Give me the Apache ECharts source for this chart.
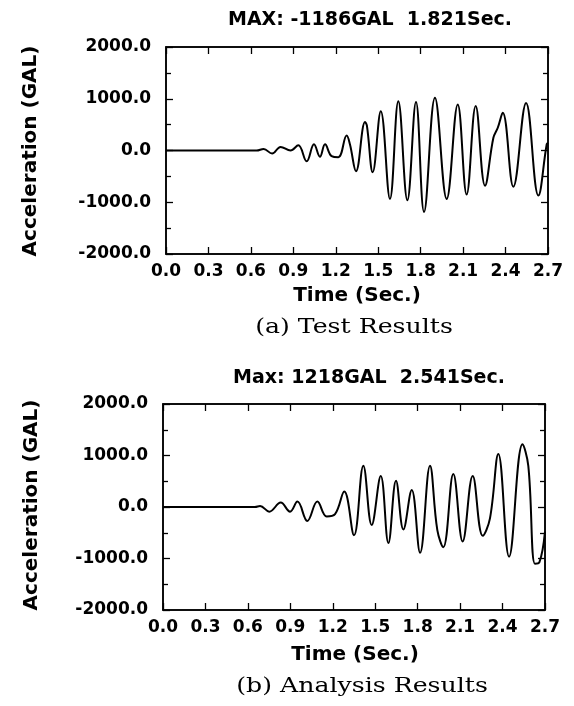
<!DOCTYPE html>
<html>
<head>
<meta charset="utf-8">
<script src="https://cdn.jsdelivr.net/npm/echarts@6/dist/echarts.min.js"></script>
<style>
html,body{margin:0;padding:0;background:#fff;}
#chart{width:574px;height:706px;}
</style>
</head>
<body>
<div id="chart"></div>
<script>
// ---- data ----
const timeTicks = [0.0, 0.3, 0.6, 0.9, 1.2, 1.5, 1.8, 2.1, 2.4, 2.7];
const accTicks = [-2000, -1000, 0, 1000, 2000];

const titleTest = 'MAX: -1186GAL  1.821Sec.';
const titleAnalysis = 'Max: 1218GAL  2.541Sec.';
const captionTest = '(a) Test Results';
const captionAnalysis = '(b) Analysis Results';
const xName = 'Time (Sec.)';
const yName = 'Acceleration (GAL)';

const testTime = [0, 0.3, 0.64, 0.69, 0.75, 0.81, 0.88, 0.935, 0.994, 1.046, 1.088, 1.124, 1.171, 1.218, 1.277, 1.30, 1.343, 1.407, 1.42, 1.461, 1.518, 1.583, 1.642, 1.706, 1.767, 1.824, 1.901, 1.984, 2.062, 2.125, 2.189, 2.255, 2.314, 2.345, 2.38, 2.455, 2.545, 2.632, 2.691, 2.7];
const testAcc  = [0, 0, 0, 30, -60, 70, 0, 100, -210, 120, -120, 120, -110, -130, 290, 120, -400, 550, 480, -420, 760, -935, 950, -960, 935, -1186, 1020, -935, 890, -850, 860, -680, 245, 440, 730, -700, 920, -870, 120, 150];

const anaTime = [0, 0.3, 0.65, 0.686, 0.751, 0.832, 0.898, 0.95, 1.02, 1.091, 1.157, 1.216, 1.281, 1.35, 1.416, 1.475, 1.539, 1.593, 1.647, 1.699, 1.758, 1.817, 1.887, 1.939, 1.981, 2.052, 2.118, 2.189, 2.26, 2.311, 2.37, 2.446, 2.541, 2.582, 2.629, 2.66, 2.7];
const anaAcc  = [0, 0, 0, 20, -90, 85, -90, 105, -270, 105, -185, -140, 300, -550, 800, -350, 600, -700, 510, -435, 330, -890, 800, -450, -780, 640, -670, 600, -560, -220, 1030, -965, 1218, 800, -1100, -1075, -480];

// ---- chart ----
const FONT = '"DejaVu Sans", "Liberation Sans", sans-serif';
const SERIF = '"DejaVu Serif", "Liberation Serif", serif';
const grids = [
  {left: 166, top: 47, width: 382, height: 207},
  {left: 163, top: 404, width: 382, height: 206}
].map(g => Object.assign(g, {show: true, borderColor: '#000', borderWidth: 1.5, backgroundColor: 'transparent'}));

function xAxes(g) {
  const base = {
    type: 'value', gridIndex: g,
    min: timeTicks[0], max: timeTicks[timeTicks.length - 1],
    interval: timeTicks[1] - timeTicks[0],
    splitLine: {show: false},
    axisLine: {show: true, onZero: false, lineStyle: {color: '#000', width: 1.5}},
    axisTick: {show: true, inside: true, length: 7, lineStyle: {color: '#000', width: 1.3}}
  };
  return [
    Object.assign({}, base, {position: 'bottom',
      axisLabel: {show: true, margin: 9, color: '#000', fontFamily: FONT, fontWeight: 'bold', fontSize: 17,
        formatter: v => Number(v).toFixed(1)}}),
    Object.assign({}, base, {position: 'top', axisLabel: {show: false}})
  ];
}
function yAxes(g) {
  const base = {
    type: 'value', gridIndex: g,
    min: accTicks[0], max: accTicks[accTicks.length - 1],
    interval: accTicks[1] - accTicks[0],
    splitLine: {show: false},
    minorTick: {show: true, splitNumber: 2, length: 5, lineStyle: {color: '#000', width: 1.3}},
    axisLine: {show: true, onZero: false, lineStyle: {color: '#000', width: 1.5}},
    axisTick: {show: true, inside: true, length: 7, lineStyle: {color: '#000', width: 1.3}}
  };
  return [
    Object.assign({}, base, {position: 'left',
      axisLabel: {show: true, margin: 15, color: '#000', fontFamily: FONT, fontWeight: 'bold', fontSize: 17,
        formatter: v => Number(v).toFixed(1)}}),
    Object.assign({}, base, {position: 'right', axisLabel: {show: false}})
  ];
}

function txt(x, y, text, size, opts) {
  opts = opts || {};
  return {
    type: 'text', x: x, y: y, rotation: opts.rotation || 0,
    scaleX: opts.scaleX || 1, silent: true,
    style: {
      text: text, x: 0, y: 0, fill: '#000',
      fontSize: size, fontFamily: opts.family || FONT,
      fontWeight: opts.weight || 'bold',
      textAlign: 'center', textVerticalAlign: 'middle'
    }
  };
}

const chart = echarts.init(document.getElementById('chart'), null, {renderer: 'canvas'});
chart.setOption({
  backgroundColor: '#fff',
  animation: false,
  grid: grids,
  xAxis: xAxes(0).concat(xAxes(1)),
  yAxis: yAxes(0).concat(yAxes(1)),
  series: [
    {type: 'line', xAxisIndex: 0, yAxisIndex: 0, showSymbol: false, smooth: 0.4,
     lineStyle: {color: '#000', width: 2},
     data: testTime.map((t, i) => [t, testAcc[i]])},
    {type: 'line', xAxisIndex: 2, yAxisIndex: 2, showSymbol: false, smooth: 0.4,
     lineStyle: {color: '#000', width: 2},
     data: anaTime.map((t, i) => [t, anaAcc[i]])},
    // empty series so the top/right frame axes (ticks only) are rendered
    {type: 'line', xAxisIndex: 1, yAxisIndex: 1, data: [], silent: true},
    {type: 'line', xAxisIndex: 3, yAxisIndex: 3, data: [], silent: true}
  ],
  graphic: [
    txt(370, 20, titleTest, 19),
    txt(369, 378, titleAnalysis, 19),
    txt(31, 151, yName, 20, {rotation: Math.PI / 2}),
    txt(32, 505, yName, 20, {rotation: Math.PI / 2}),
    txt(357, 296, xName, 20),
    txt(355, 655, xName, 20),
    txt(354, 328, captionTest, 21, {family: SERIF, weight: 'normal', scaleX: 1.2}),
    txt(362, 687, captionAnalysis, 21, {family: SERIF, weight: 'normal', scaleX: 1.2})
  ]
});
</script>
</body>
</html>
